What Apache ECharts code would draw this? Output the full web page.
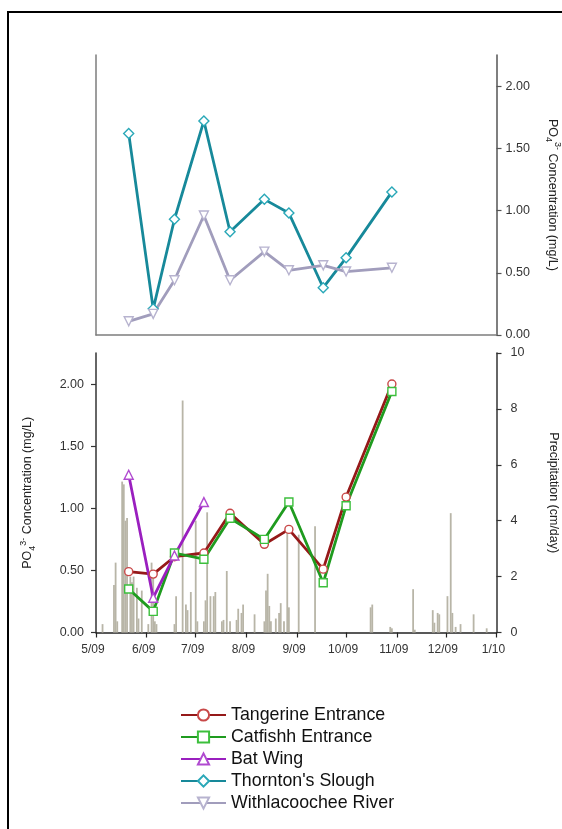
<!DOCTYPE html>
<html>
<head>
<meta charset="utf-8">
<script src="https://cdn.jsdelivr.net/npm/echarts@6/dist/echarts.min.js"></script>
<style>
  html, body { margin: 0; padding: 0; background: #fff; }
  #chart { width: 562px; height: 829px; }
</style>
</head>
<body>
<div id="chart"></div>
<script>
// Sampling dates (shared by every station)
const sampleDates = ['2009-05-21', '2009-06-05', '2009-06-18', '2009-07-06', '2009-07-22',
                     '2009-08-12', '2009-08-27', '2009-09-17', '2009-10-01', '2009-10-29'];
const batWingDates = ['2009-05-21', '2009-06-05', '2009-06-18', '2009-07-06'];

// Phosphate concentrations (mg/L)
const tangerine     = [0.49, 0.47, 0.61, 0.64, 0.96, 0.71, 0.83, 0.51, 1.09, 2.00];
const catfish       = [0.35, 0.17, 0.64, 0.59, 0.92, 0.75, 1.05, 0.40, 1.02, 1.94];
const batWing       = [1.27, 0.28, 0.62, 1.05];
const thorntons     = [1.62, 0.21, 0.93, 1.72, 0.83, 1.09, 0.98, 0.38, 0.62, 1.15];
const withlacoochee = [0.11, 0.17, 0.44, 0.96, 0.44, 0.67, 0.52, 0.56, 0.51, 0.54];

// Daily precipitation (cm/day)
const precipDates = [
  '2009-05-05', '2009-05-12', '2009-05-13', '2009-05-14', '2009-05-17', '2009-05-18',
  '2009-05-19', '2009-05-20', '2009-05-22', '2009-05-23', '2009-05-24', '2009-05-26',
  '2009-05-27', '2009-05-29', '2009-06-02', '2009-06-04', '2009-06-05', '2009-06-06',
  '2009-06-07', '2009-06-18', '2009-06-19', '2009-06-23', '2009-06-25', '2009-06-26',
  '2009-06-28', '2009-07-01', '2009-07-02', '2009-07-06', '2009-07-07', '2009-07-08',
  '2009-07-10', '2009-07-12', '2009-07-13', '2009-07-17', '2009-07-18', '2009-07-20',
  '2009-07-22', '2009-07-26', '2009-07-27', '2009-07-29', '2009-07-30', '2009-08-06',
  '2009-08-12', '2009-08-13', '2009-08-14', '2009-08-15', '2009-08-16', '2009-08-19',
  '2009-08-21', '2009-08-22', '2009-08-24', '2009-08-26', '2009-08-27', '2009-09-02',
  '2009-09-12', '2009-10-16', '2009-10-17', '2009-10-28', '2009-10-29', '2009-11-11',
  '2009-11-12', '2009-11-23', '2009-11-24', '2009-11-26', '2009-11-27', '2009-12-02',
  '2009-12-04', '2009-12-05', '2009-12-07', '2009-12-10', '2009-12-18', '2009-12-26'
];
const precipValues = [
  0.3, 1.7, 2.5, 0.4, 5.4, 5.3,
  4.0, 4.1, 2.0, 1.8, 2.0, 1.6,
  0.5, 1.5, 0.3, 2.5, 2.0, 0.4,
  0.3, 0.3, 1.3, 8.3, 1.0, 0.8,
  1.45, 4.0, 0.4, 0.4, 1.15, 4.3,
  1.3, 1.3, 1.45, 0.4, 0.45, 2.2,
  0.4, 0.45, 0.85, 0.7, 1.0, 0.65,
  0.4, 1.5, 2.1, 0.95, 0.4, 0.5,
  0.7, 1.05, 0.4, 3.8, 0.9, 3.5,
  3.8, 0.9, 1.0, 0.2, 0.15, 1.55,
  0.1, 0.8, 0.35, 0.7, 0.65, 1.3,
  4.27, 0.7, 0.2, 0.3, 0.65, 0.15
];

// Axis ticks
const monthTicks  = ['2009-05-01', '2009-06-01', '2009-07-01', '2009-08-01', '2009-09-01',
                     '2009-10-01', '2009-11-01', '2009-12-01', '2010-01-01'];
const concTicks   = [0, 0.5, 1, 1.5, 2];
const precipTicks = [0, 2, 4, 6, 8, 10];

function toTime(s) {
  const p = s.split('-').map(Number);
  return new Date(p[0], p[1] - 1, p[2]).getTime();
}
function pairs(dates, vals) {
  return dates.map((d, i) => [toTime(d), vals[i]]);
}

const FONT = 'Liberation Sans, Arial, sans-serif';
const xMin = toTime(monthTicks[0]);
const xMax = toTime(monthTicks[monthTicks.length - 1]);
const monthValues = monthTicks.map(toTime);

const nameRich = {
  sub: { fontSize: 9, fontFamily: FONT, color: '#222', verticalAlign: 'bottom', lineHeight: 18 },
  sup: { fontSize: 9, fontFamily: FONT, color: '#222', verticalAlign: 'top', lineHeight: 18 }
};
const concName = 'PO{sub|4}{sup|3-} Concentration (mg/L)';

function lineSeries(name, dates, vals, color, border, symbol, xi, yi, extra) {
  return Object.assign({
    name: name,
    type: 'line',
    xAxisIndex: xi,
    yAxisIndex: yi,
    data: pairs(dates, vals),
    symbol: symbol,
    symbolSize: 8,
    z: 5,
    lineStyle: { color: color, width: 2.8 },
    itemStyle: { color: '#ffffff', borderColor: border, borderWidth: 1.4 }
  }, extra || {});
}

const chart = echarts.init(document.getElementById('chart'), null, { renderer: 'canvas' });

chart.setOption({
  animation: false,
  backgroundColor: '#ffffff',
  // figure frame (its right edge lies beyond the page)
  graphic: [{
    type: 'rect',
    shape: { x: 8, y: 12, width: 600, height: 830 },
    style: { fill: 'none', stroke: '#000', lineWidth: 2 },
    silent: true
  }],
  grid: [
    { left: 96, top: 55, width: 400.5, height: 280, outerBoundsMode: 'none', containLabel: false },
    { left: 96, top: 353, width: 400.5, height: 279.5, outerBoundsMode: 'none', containLabel: false }
  ],
  xAxis: [
    {
      gridIndex: 0, type: 'value', min: xMin, max: xMax, position: 'top',
      axisLine: { show: true, lineStyle: { color: '#7d7d7d', width: 1.5 } },
      axisTick: { show: false }, axisLabel: { show: false }, splitLine: { show: false }
    },
    {
      gridIndex: 1, type: 'value', min: xMin, max: xMax, position: 'bottom',
      axisLine: { show: true, lineStyle: { color: '#222', width: 1.5 } },
      axisTick: { show: true, length: 5, customValues: monthValues, lineStyle: { color: '#222', width: 1.2 } },
      axisLabel: {
        customValues: monthValues, margin: 11, fontSize: 12, fontFamily: FONT, color: '#333',
        padding: [0, 6, 0, 0],
        formatter: function (v) {
          const d = new Date(v);
          return (d.getMonth() + 1) + '/' + String(d.getFullYear()).slice(2);
        }
      },
      splitLine: { show: false }
    }
  ],
  yAxis: [
    {
      gridIndex: 0, type: 'value', min: 0, max: 2.25, position: 'right',
      axisLine: { show: true, lineStyle: { color: '#555', width: 1.5 } },
      axisTick: { show: true, length: 5, customValues: concTicks, lineStyle: { color: '#555', width: 1.2 } },
      axisLabel: { customValues: concTicks, margin: 9, fontSize: 12.5, fontFamily: FONT, color: '#333',
        formatter: v => v.toFixed(2) },
      splitLine: { show: false },
      name: concName, nameLocation: 'middle', nameRotate: -90, nameGap: 47,
      nameTextStyle: { fontSize: 12.5, fontFamily: FONT, color: '#222', lineHeight: 18, rich: nameRich }
    },
    {
      gridIndex: 0, type: 'value', min: 0, max: 1, position: 'left',
      axisLine: { show: true, lineStyle: { color: '#7d7d7d', width: 1.5 } },
      axisTick: { show: false }, axisLabel: { show: false }, splitLine: { show: false }
    },
    {
      gridIndex: 1, type: 'value', min: 0, max: 2.25, position: 'left',
      axisLine: { show: true, lineStyle: { color: '#333', width: 1.5 } },
      axisTick: { show: true, length: 5, customValues: concTicks, lineStyle: { color: '#333', width: 1.2 } },
      axisLabel: { customValues: concTicks, margin: 12, fontSize: 12.5, fontFamily: FONT, color: '#333',
        formatter: v => v.toFixed(2) },
      splitLine: { show: false },
      name: concName, nameLocation: 'middle', nameRotate: 90, nameGap: 59,
      nameTextStyle: { fontSize: 12.5, fontFamily: FONT, color: '#222', lineHeight: 18, rich: nameRich }
    },
    {
      gridIndex: 1, type: 'value', min: 0, max: 10, interval: 2, position: 'right',
      axisLine: { show: true, lineStyle: { color: '#333', width: 1.5 } },
      axisTick: { show: true, length: 5, customValues: precipTicks, lineStyle: { color: '#333', width: 1.2 } },
      axisLabel: { customValues: precipTicks, margin: 14, fontSize: 12.5, fontFamily: FONT, color: '#333' },
      splitLine: { show: false },
      name: 'Precipitation (cm/day)', nameLocation: 'middle', nameRotate: -90, nameGap: 50,
      nameTextStyle: { fontSize: 12.5, fontFamily: FONT, color: '#222' }
    }
  ],
  legend: {
    orient: 'vertical',
    left: 180,
    top: 706,
    padding: 0,
    itemWidth: 45,
    itemHeight: 14,
    itemGap: 4,
    data: ['Tangerine Entrance', 'Catfishh Entrance', 'Bat Wing', "Thornton's Slough", 'Withlacoochee River'],
    textStyle: { fontSize: 17.8, fontFamily: FONT, color: '#111', lineHeight: 18 }
  },
  series: [
    {
      name: 'Precipitation',
      type: 'bar',
      xAxisIndex: 1,
      yAxisIndex: 3,
      barWidth: 1.8,
      z: 1,
      itemStyle: { color: '#b8b5a7' },
      data: pairs(precipDates, precipValues)
    },
    lineSeries('Tangerine Entrance', sampleDates, tangerine, '#951919', '#c84848', 'circle', 1, 2),
    lineSeries('Catfishh Entrance', sampleDates, catfish, '#1f9b1f', '#3cbf3c', 'rect', 1, 2),
    lineSeries('Bat Wing', batWingDates, batWing, '#9a1fbf', '#b04ad0', 'triangle', 1, 2, { symbolSize: 9 }),
    lineSeries("Thornton's Slough", sampleDates, thorntons, '#17899a', '#2aa8b8', 'diamond', 0, 0, { symbolSize: 10 }),
    lineSeries('Withlacoochee River', sampleDates, withlacoochee, '#a19dbc', '#b7b3cf', 'triangle', 0, 0,
      { symbolSize: 9, symbolRotate: 180 })
  ]
});
</script>
</body>
</html>
